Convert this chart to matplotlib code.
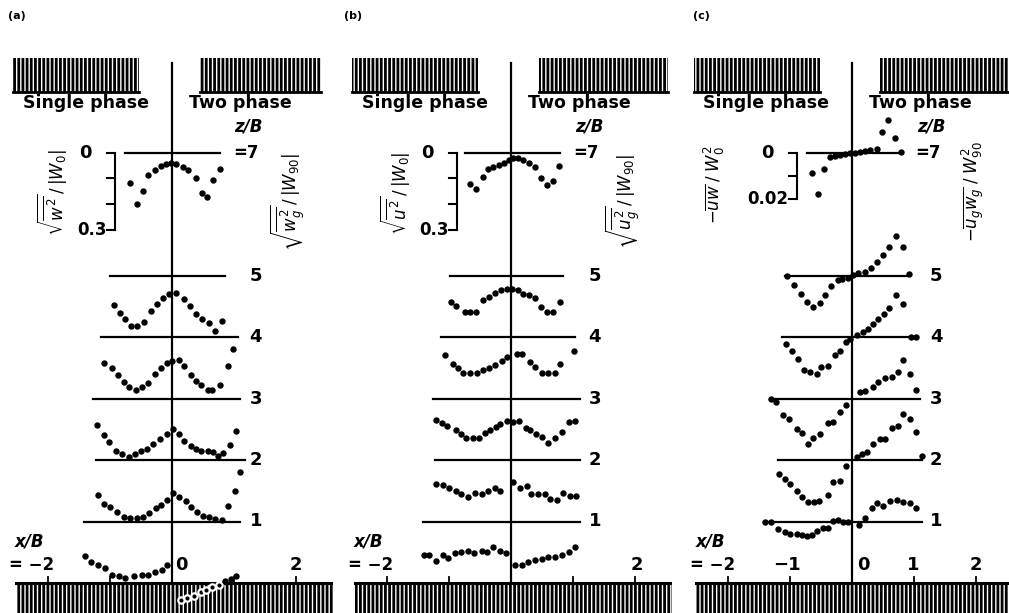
import matplotlib.pyplot as plt
from matplotlib.patches import Rectangle

plt.rcParams['font.family'] = 'DejaVu Sans'
plt.rcParams['mathtext.fontset'] = 'dejavusans'
plt.rcParams['hatch.linewidth'] = 2.0

# profile levels z/B, top to bottom
levels = [7, 5, 4, 3, 2, 1]

# (a) sqrt(w'^2)/|W0| profiles, x/B positions and values
a_x = [
    [-0.67, -0.57, -0.47, -0.38, -0.27, -0.17, -0.09, -0.01, 0.07, 0.17, 0.26, 0.38, 0.48, 0.57, 0.66, 0.78],
    [-0.94, -0.84, -0.75, -0.66, -0.57, -0.45, -0.34, -0.24, -0.15, -0.05, 0.07, 0.19, 0.29, 0.39, 0.49, 0.59, 0.70, 0.80],
    [-1.09, -0.97, -0.87, -0.78, -0.69, -0.58, -0.48, -0.38, -0.27, -0.17, -0.08, 0.0, 0.11, 0.20, 0.30, 0.39, 0.47, 0.58, 0.65, 0.78, 0.90, 0.98],
    [-1.21, -1.10, -1.01, -0.91, -0.81, -0.70, -0.60, -0.50, -0.40, -0.30, -0.19, -0.08, 0.01, 0.11, 0.20, 0.30, 0.39, 0.47, 0.58, 0.66, 0.75, 0.83, 0.93, 1.03],
    [-1.19, -1.09, -1.00, -0.89, -0.78, -0.67, -0.57, -0.46, -0.37, -0.26, -0.17, -0.08, 0.02, 0.12, 0.22, 0.31, 0.40, 0.50, 0.59, 0.70, 0.80, 0.91, 1.02, 1.10],
    [-1.40, -1.30, -1.19, -1.08, -0.97, -0.86, -0.75, -0.62, -0.48, -0.38, -0.27, -0.16, -0.08, 0.15, 0.25, 0.36, 0.46, 0.55, 0.65, 0.76, 0.85, 0.95, 1.04],
]
a_v = [
    [0.119, 0.200, 0.149, 0.086, 0.067, 0.052, 0.045, 0.042, 0.044, 0.057, 0.070, 0.100, 0.158, 0.174, 0.106, 0.065],
    [0.113, 0.147, 0.171, 0.198, 0.195, 0.182, 0.140, 0.110, 0.087, 0.071, 0.067, 0.091, 0.117, 0.149, 0.169, 0.184, 0.217, 0.178],
    [0.101, 0.121, 0.147, 0.176, 0.196, 0.208, 0.195, 0.179, 0.143, 0.121, 0.101, 0.095, 0.091, 0.114, 0.147, 0.173, 0.185, 0.205, 0.208, 0.185, 0.114, 0.047],
    [0.102, 0.141, 0.171, 0.204, 0.217, 0.227, 0.217, 0.206, 0.197, 0.178, 0.158, 0.139, 0.119, 0.139, 0.167, 0.184, 0.197, 0.204, 0.204, 0.210, 0.223, 0.214, 0.180, 0.126],
    [0.136, 0.171, 0.184, 0.201, 0.220, 0.227, 0.227, 0.220, 0.208, 0.188, 0.175, 0.156, 0.127, 0.145, 0.158, 0.182, 0.201, 0.218, 0.223, 0.230, 0.233, 0.179, 0.121, 0.045],
    [0.136, 0.156, 0.169, 0.182, 0.208, 0.214, 0.218, 0.214, 0.210, 0.208, 0.195, 0.188, 0.171, 0.305, 0.296, 0.288, 0.276, 0.268, 0.254, 0.247, 0.233, 0.222, 0.212],
]

# (b) sqrt(u'^2)/|W0| profiles
b_x = [
    [-0.66, -0.57, -0.45, -0.37, -0.29, -0.20, -0.12, -0.04, 0.04, 0.12, 0.20, 0.29, 0.39, 0.48, 0.58, 0.67, 0.77],
    [-0.96, -0.88, -0.75, -0.66, -0.57, -0.45, -0.36, -0.26, -0.16, -0.07, 0.01, 0.11, 0.20, 0.29, 0.39, 0.48, 0.58, 0.67, 0.79],
    [-1.07, -0.93, -0.85, -0.77, -0.66, -0.55, -0.45, -0.35, -0.26, -0.15, -0.07, 0.09, 0.17, 0.31, 0.39, 0.50, 0.60, 0.71, 0.79, 1.01],
    [-1.21, -1.12, -1.03, -0.89, -0.80, -0.72, -0.62, -0.52, -0.42, -0.34, -0.25, -0.17, -0.07, 0.03, 0.13, 0.24, 0.31, 0.40, 0.50, 0.60, 0.71, 0.82, 0.93, 1.03],
    [-1.21, -1.09, -1.00, -0.89, -0.80, -0.69, -0.58, -0.47, -0.37, -0.26, -0.17, 0.03, 0.15, 0.25, 0.33, 0.44, 0.55, 0.63, 0.74, 0.84, 0.95, 1.05],
    [-1.41, -1.32, -1.21, -1.09, -1.01, -0.90, -0.80, -0.70, -0.60, -0.47, -0.38, -0.29, -0.18, -0.08, 0.07, 0.17, 0.28, 0.39, 0.50, 0.60, 0.71, 0.82, 0.93, 1.03],
]
b_v = [
    [0.121, 0.143, 0.095, 0.065, 0.056, 0.047, 0.039, 0.030, 0.023, 0.023, 0.030, 0.039, 0.056, 0.099, 0.127, 0.112, 0.053],
    [0.102, 0.119, 0.141, 0.141, 0.141, 0.097, 0.083, 0.067, 0.058, 0.054, 0.052, 0.058, 0.071, 0.077, 0.087, 0.122, 0.141, 0.141, 0.102],
    [0.069, 0.104, 0.121, 0.139, 0.140, 0.139, 0.130, 0.121, 0.110, 0.095, 0.078, 0.065, 0.067, 0.097, 0.117, 0.140, 0.139, 0.140, 0.104, 0.054],
    [0.082, 0.095, 0.108, 0.121, 0.137, 0.153, 0.153, 0.153, 0.134, 0.121, 0.112, 0.101, 0.086, 0.091, 0.086, 0.114, 0.121, 0.137, 0.150, 0.173, 0.153, 0.130, 0.091, 0.088],
    [0.095, 0.097, 0.108, 0.121, 0.134, 0.144, 0.127, 0.131, 0.121, 0.110, 0.121, 0.084, 0.108, 0.101, 0.131, 0.131, 0.134, 0.153, 0.157, 0.127, 0.140, 0.140],
    [0.130, 0.132, 0.153, 0.130, 0.143, 0.123, 0.119, 0.114, 0.123, 0.114, 0.119, 0.101, 0.114, 0.123, 0.169, 0.169, 0.156, 0.149, 0.145, 0.140, 0.140, 0.132, 0.117, 0.101],
]

# (c) -uw/W0^2 profiles
c_x = [
    [-0.65, -0.55, -0.46, -0.37, -0.29, -0.20, -0.12, -0.04, 0.04, 0.12, 0.20, 0.28, 0.39, 0.47, 0.58, 0.69, 0.78],
    [-1.05, -0.94, -0.83, -0.74, -0.63, -0.53, -0.44, -0.34, -0.24, -0.17, -0.07, 0.01, 0.09, 0.20, 0.30, 0.40, 0.50, 0.59, 0.70, 0.81, 0.91],
    [-1.07, -0.98, -0.88, -0.78, -0.68, -0.58, -0.50, -0.39, -0.29, -0.20, -0.10, -0.04, 0.08, 0.17, 0.25, 0.33, 0.41, 0.51, 0.59, 0.70, 0.82, 0.94, 1.02],
    [-1.32, -1.23, -1.12, -1.03, -0.90, -0.82, -0.72, -0.63, -0.53, -0.39, -0.31, -0.20, -0.10, 0.12, 0.20, 0.33, 0.41, 0.52, 0.63, 0.73, 0.82, 0.93, 1.03],
    [-1.18, -1.09, -1.01, -0.90, -0.81, -0.72, -0.62, -0.54, -0.39, -0.31, -0.20, -0.10, 0.07, 0.15, 0.23, 0.33, 0.44, 0.52, 0.63, 0.73, 0.82, 0.93, 1.03, 1.12],
    [-1.41, -1.32, -1.20, -1.09, -1.00, -0.90, -0.81, -0.73, -0.66, -0.57, -0.47, -0.39, -0.31, -0.23, -0.15, -0.07, 0.11, 0.20, 0.31, 0.39, 0.50, 0.60, 0.71, 0.82, 0.93, 1.03],
]
c_v = [
    [0.0086, 0.0179, 0.0069, 0.0021, 0.0014, 0.0010, 0.0007, 0.0003, 0.0, -0.0003, -0.0006, -0.0009, -0.0017, -0.0089, -0.0140, -0.0064, -0.0004],
    [0.0, 0.0040, 0.0080, 0.0114, 0.0137, 0.0119, 0.0083, 0.0043, 0.0019, 0.0014, 0.0011, -0.0003, -0.0010, -0.0017, -0.0034, -0.0060, -0.0089, -0.0121, -0.0170, -0.0124, -0.0006],
    [0.0029, 0.0061, 0.0096, 0.0143, 0.0150, 0.0157, 0.0129, 0.0124, 0.0076, 0.0061, 0.0021, 0.0007, -0.0007, -0.0021, -0.0036, -0.0057, -0.0076, -0.0100, -0.0124, -0.0179, -0.0143, 0.0, 0.0],
    [0.0, 0.0014, 0.0071, 0.0086, 0.0129, 0.0150, 0.0193, 0.0171, 0.0154, 0.0107, 0.0100, 0.0057, 0.0029, -0.0029, -0.0031, -0.0050, -0.0071, -0.0086, -0.0093, -0.0114, -0.0164, -0.0103, -0.0036],
    [0.0060, 0.0081, 0.0103, 0.0131, 0.0160, 0.0179, 0.0179, 0.0174, 0.0150, 0.0096, 0.0089, 0.0024, -0.0011, -0.0026, -0.0033, -0.0069, -0.0090, -0.0090, -0.0136, -0.0144, -0.0197, -0.0176, -0.0119, -0.0016],
    [0.0, 0.0004, 0.0033, 0.0044, 0.0054, 0.0054, 0.0059, 0.0061, 0.0057, 0.0040, 0.0030, 0.0026, -0.0003, -0.0007, 0.0004, 0.0004, 0.0016, -0.0013, -0.0060, -0.0079, -0.0067, -0.0089, -0.0093, -0.0084, -0.0081, -0.0060],
]

# baseline extents (x/B) for each level
a_left = [-0.76, -1.00, -1.15, -1.27, -1.23, -1.42]
a_right = [0.77, 0.85, 1.06, 1.10, 1.18, 1.10]
b_left = [-0.74, -0.98, -1.13, -1.26, -1.23, -1.42]
b_right = [0.79, 0.84, 1.03, 1.11, 1.11, 1.11]
c_left = [-0.74, -1.09, -1.14, -1.33, -1.20, -1.43]
c_right = [0.80, 0.89, 1.06, 1.09, 1.12, 1.12]

ab_ticks = [0, 0.1, 0.2, 0.3]
c_ticks = [0, 0.01, 0.02]

W, H = 1009, 613
PX = 62.0
PZ = 61.5

fig = plt.figure(figsize=(W / 100, H / 100), dpi=100)


def make_axes(cx, xr):
    xl = -2.6
    left = cx + xl * PX
    ax = fig.add_axes([left / W, 0, (xr - xl) * PX / W, 1])
    ax.set_xlim(xl, xr)
    ax.set_ylim(-30 / PZ, 583 / PZ)
    ax.axis('off')
    return ax


def draw_panel(ax, xs, vs, scale, lefts, rights, ticks, tick_labels,
               bracket_x, right_block, ylab_l, ylab_r, xl_pos, xr_pos, x_labels):
    # wall
    ax.add_patch(Rectangle((-2.52, -1.0), 5.2, 1.0, facecolor='white',
                           edgecolor='black', lw=0, hatch='||||', zorder=1))
    ax.plot([-2.52, 2.7], [0, 0], color='black', lw=2.2, zorder=2)
    # top blocks
    ax.add_patch(Rectangle((-2.56, 7.98), 2.03, 0.56, facecolor='white',
                           edgecolor='black', lw=0, hatch='||||', zorder=1))
    ax.plot([-2.56, -0.53], [7.98, 7.98], color='black', lw=2, zorder=2)
    ax.add_patch(Rectangle((0.45, 7.98), right_block - 0.45, 0.56, facecolor='white',
                           edgecolor='black', lw=0, hatch='||||', zorder=1))
    ax.plot([0.45, right_block], [7.98, 7.98], color='black', lw=2, zorder=2)
    # centre line
    ax.plot([0, 0], [0, 8.45], color='black', lw=1.6, zorder=3)
    # baselines and profiles
    for z, x, v, l, r in zip(levels, xs, vs, lefts, rights):
        ax.plot([l, r], [z, z], color='black', lw=1.6, zorder=3)
        zz = [z - scale * val for val in v]
        inside = [(xi, zi) for xi, zi in zip(x, zz) if zi < 0]
        if inside:
            ax.plot([p[0] for p in inside], [p[1] for p in inside], 'o', color='black',
                    ms=4.6, mec='white', mew=1.6, zorder=4)
        outside = [(xi, zi) for xi, zi in zip(x, zz) if zi >= 0]
        ax.plot([p[0] for p in outside], [p[1] for p in outside], 'o', color='black',
                ms=4.6, mew=0, zorder=4)
        if z == 7:
            ax.text(rights[0] + 0.22, z, '=7', fontsize=12, fontweight='bold', ha='left', va='center')
            ax.text(rights[0] + 0.24, z + 0.42, 'z/B', fontsize=12, fontweight='bold',
                    fontstyle='italic', ha='left', va='center')
        else:
            ax.text(1.25, z, str(z), fontsize=13, fontweight='bold', ha='left', va='center')
    # scale bracket
    zb = [7 - scale * t for t in ticks]
    ax.plot([bracket_x, bracket_x], [zb[0], zb[-1]], color='black', lw=1.5)
    for zt in zb:
        ax.plot([bracket_x - 0.13, bracket_x], [zt, zt], color='black', lw=1.5)
    ax.text(bracket_x - 0.48, zb[0], tick_labels[0], fontsize=13, fontweight='bold', ha='center', va='center')
    ax.text(bracket_x - 0.13, zb[-1], tick_labels[1], fontsize=12, fontweight='bold', ha='right', va='center')
    # headings
    ax.text(-1.39, 7.8, 'Single phase', fontsize=12.5, fontweight='bold', ha='center', va='center')
    ax.text(1.1, 7.8, 'Two phase', fontsize=12.5, fontweight='bold', ha='center', va='center')
    # axis labels
    ax.text(xl_pos[0], xl_pos[1], ylab_l, fontsize=12, rotation=90, ha='center', va='center')
    ax.text(xr_pos[0], xr_pos[1], ylab_r, fontsize=12, rotation=90, ha='center', va='center')
    # x/B marks on wall
    for xt in [-2, -1, 1, 2]:
        ax.plot([xt, xt], [0, 0.09], color='black', lw=1.3)
    ax.text(-2.53, 0.67, 'x/B', fontsize=12, fontweight='bold', fontstyle='italic', ha='left', va='center')
    ax.text(-1.9, 0.3, '= \u22122', fontsize=12, fontweight='bold', ha='right', va='center')
    for xt, txt in x_labels:
        ax.text(xt, 0.3, txt, fontsize=13, fontweight='bold', ha='center', va='center')


ax_a = make_axes(172, 2.6)
draw_panel(ax_a, a_x, a_v, 257 / PZ, a_left, a_right, ab_ticks, ['0', '0.3'],
           -0.92, 2.40,
           r'$\sqrt{\overline{w^2}}\,/\,|W_0|$', r'$\sqrt{\overline{w_g^2}}\,/\,|W_{90}|$',
           (-1.94, 6.34), (1.87, 6.2), [(0.15, '0'), (2.0, '2')])

ax_b = make_axes(511, 2.6)
draw_panel(ax_b, b_x, b_v, 257 / PZ, b_left, b_right, ab_ticks, ['0', '0.3'],
           -0.87, 2.53,
           r'$\sqrt{\overline{u^2}}\,/\,|W_0|$', r'$\sqrt{\overline{u_g^2}}\,/\,|W_{90}|$',
           (-1.87, 6.34), (1.81, 6.2), [(2.03, '2')])

ax_c = make_axes(852.5, 2.525)
draw_panel(ax_c, c_x, c_v, 2333 / PZ, c_left, c_right, c_ticks, ['0', '0.02'],
           -0.90, 2.6,
           r'$-\overline{uw}\;/\;W_0^2$', r'$-\overline{u_g w_g}\;/\;W_{90}^2$',
           (-2.22, 6.47), (1.94, 6.36),
           [(-1.05, '\u22121'), (0.17, '0'), (0.98, '1'), (1.99, '2')])

fig.text(8 / W, 1 - 16 / H, '(a)', fontsize=8, fontweight='bold', va='center')
fig.text(344 / W, 1 - 16 / H, '(b)', fontsize=8, fontweight='bold', va='center')
fig.text(693 / W, 1 - 16 / H, '(c)', fontsize=8, fontweight='bold', va='center')

fig.savefig('out.png', dpi=100)
